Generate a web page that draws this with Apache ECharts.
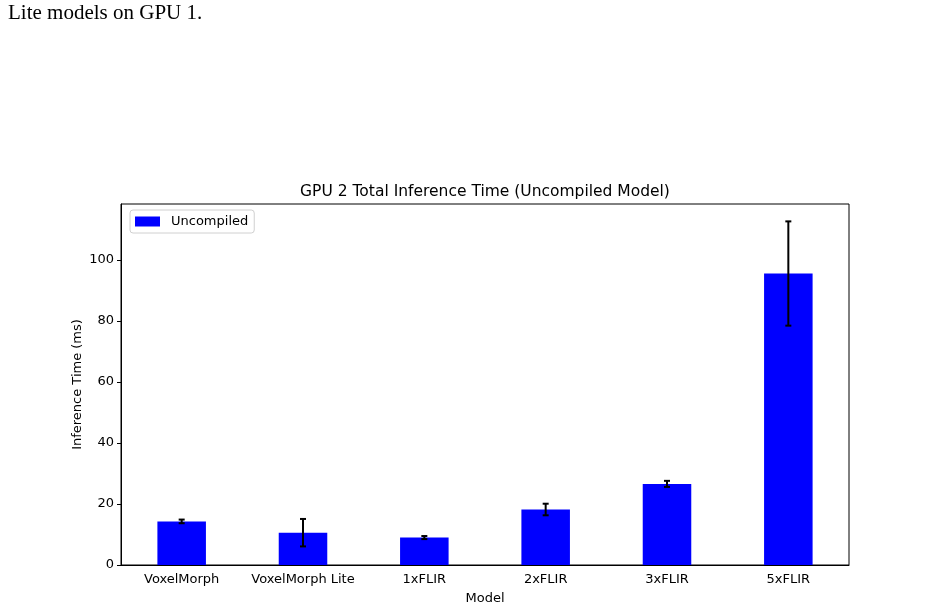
<!DOCTYPE html>
<html>
<head>
<meta charset="utf-8">
<script src="https://cdn.jsdelivr.net/npm/echarts@6/dist/echarts.min.js"></script>
<style>
  html, body { margin: 0; padding: 0; background: #fff; }
  #chart { width: 931px; height: 608px; }
</style>
</head>
<body>
<div id="chart"></div>
<script>
// values
const models = ['VoxelMorph', 'VoxelMorph Lite', '1xFLIR', '2xFLIR', '3xFLIR', '5xFLIR']
const meanTimes = [14.3, 10.6, 9.0, 18.2, 26.6, 95.6]
const errTimes = [0.6, 4.5, 0.5, 1.9, 1.0, 17.1]
const yTicks = [0, 20, 40, 60, 80, 100]

const chart = echarts.init(document.getElementById('chart'), null, { renderer: 'canvas' })

const font = 'DejaVu Sans'

// error bar data: [index, low, high]
const errData = models.map((m, i) => [i, meanTimes[i] - errTimes[i], meanTimes[i] + errTimes[i]])

const option = {
  animation: false,
  backgroundColor: '#fff',
  textStyle: { fontFamily: font },
  title: {
    text: 'GPU 2 Total Inference Time (Uncompiled Model)',
    left: 480,
    textAlign: 'center',
    top: 179,
    textStyle: { fontFamily: font, fontSize: 15.5, fontWeight: 'normal', color: '#000' }
  },
  graphic: [{
    type: 'text',
    left: 8,
    top: 3,
    style: {
      text: 'Lite models on GPU 1.',
      fontFamily: 'Liberation Serif',
      fontSize: 21,
      fill: '#000'
    }
  }],
  legend: {
    left: 130,
    top: 210,
    padding: [5, 6, 5, 5],
    borderColor: '#d0d0d0',
    borderWidth: 1,
    borderRadius: 3,
    icon: 'rect',
    itemWidth: 25,
    itemHeight: 10,
    itemGap: 8,
    data: ['Uncompiled'],
    textStyle: { fontFamily: font, fontSize: 13, color: '#000', padding: [0, 0, 0, 6] }
  },
  grid: {
    left: 121,
    right: 82,
    top: 204,
    bottom: 43,
    outerBoundsMode: 'none',
    containLabel: false,
    show: true,
    borderColor: '#000',
    borderWidth: 1
  },
  xAxis: {
    type: 'category',
    data: models,
    name: 'Model',
    nameLocation: 'middle',
    nameGap: 27,
    nameTextStyle: { fontFamily: font, fontSize: 13, color: '#000' },
    axisLine: { lineStyle: { color: '#000', width: 1 } },
    axisTick: { alignWithLabel: true, length: 4, lineStyle: { color: '#000' } },
    axisLabel: { interval: 0, fontFamily: font, fontSize: 13, color: '#000', margin: 8 },
    splitLine: { show: false }
  },
  yAxis: {
    type: 'value',
    min: 0,
    max: 118.4,
    interval: 20,
    name: 'Inference Time (ms)',
    nameLocation: 'middle',
    nameGap: 37,
    nameMoveOverlap: false,
    nameTextStyle: { fontFamily: font, fontSize: 13, color: '#000' },
    axisLine: { show: true, lineStyle: { color: '#000', width: 1 } },
    axisTick: { show: true, length: 4, lineStyle: { color: '#000' } },
    axisLabel: {
      fontFamily: font, fontSize: 13, color: '#000', margin: 7,
      showMaxLabel: false,
      formatter: v => yTicks.includes(v) ? String(v) : ''
    },
    splitLine: { show: false }
  },
  series: [
    {
      name: 'Uncompiled',
      type: 'bar',
      data: meanTimes,
      barWidth: '40%',
      itemStyle: { color: '#0000ff' }
    },
    {
      name: 'err',
      type: 'custom',
      data: errData,
      z: 10,
      renderItem: function (params, api) {
        const x = api.value(0)
        const lo = api.coord([x, api.value(1)])
        const hi = api.coord([x, api.value(2)])
        const cap = 3
        const st = { stroke: '#000', lineWidth: 2 }
        return {
          type: 'group',
          children: [
            { type: 'line', shape: { x1: lo[0], y1: lo[1], x2: hi[0], y2: hi[1] }, style: st },
            { type: 'line', shape: { x1: lo[0] - cap, y1: lo[1], x2: lo[0] + cap, y2: lo[1] }, style: st },
            { type: 'line', shape: { x1: hi[0] - cap, y1: hi[1], x2: hi[0] + cap, y2: hi[1] }, style: st }
          ]
        }
      }
    }
  ]
}

chart.setOption(option)
</script>
</body>
</html>
